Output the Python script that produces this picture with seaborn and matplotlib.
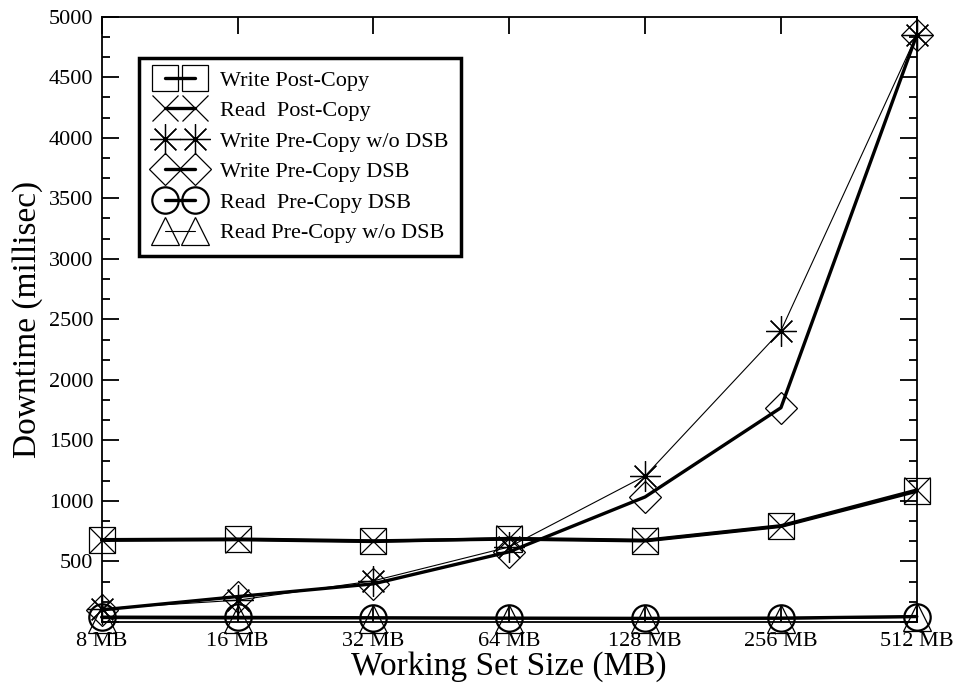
import matplotlib
matplotlib.use("Agg")
import matplotlib.pyplot as plt
import numpy as np
import pandas as pd
import seaborn as sns
from matplotlib.legend_handler import HandlerLine2D
from matplotlib.ticker import AutoMinorLocator, FixedLocator

# working set sizes (x categories)
sizes = ["8 MB", "16 MB", "32 MB", "64 MB", "128 MB", "256 MB", "512 MB"]

# downtime values (millisec)
write_post_copy = [680, 685, 670, 685, 670, 790, 1080]
read_post_copy = [675, 680, 665, 690, 675, 795, 1090]
write_pre_nodsb = [110, 180, 340, 620, 1206, 2406, 4850]
write_pre_dsb = [100, 210, 315, 580, 1033, 1770, 4850]
read_pre_dsb = [40, 38, 35, 32, 30, 32, 45]
read_pre_nodsb = [28, 25, 28, 25, 22, 24, 38]

series_names = [
    "Write Post-Copy",
    "Read  Post-Copy",
    "Write Pre-Copy w/o DSB",
    "Write Pre-Copy DSB",
    "Read  Pre-Copy DSB",
    "Read Pre-Copy w/o DSB",
]
series_values = [write_post_copy, read_post_copy, write_pre_nodsb,
                 write_pre_dsb, read_pre_dsb, read_pre_nodsb]
markers = ["s", "x", (8, 2, 0), "D", "o", "^"]
marker_sizes = [19, 19, 22, 16, 19, 20]
marker_edges = [0.9, 0.9, 0.9, 0.9, 1.6, 0.9]
line_widths = [2.4, 2.4, 0.8, 2.4, 2.4, 0.8]

rows = []
for name, vals in zip(series_names, series_values):
    for i, v in enumerate(vals):
        rows.append({"series": name, "pos": i, "downtime": v})
df = pd.DataFrame(rows)

sns.set_style("ticks")
plt.rcParams["font.family"] = ["Liberation Serif", "DejaVu Serif"]
plt.rcParams["text.color"] = "black"
plt.rcParams["axes.labelcolor"] = "black"

fig = plt.figure(figsize=(9.59, 6.86), dpi=100)
ax = fig.add_axes([0.106, 0.0933, 0.850, 0.8824])

for name, mk, ms, mew, lw in zip(series_names, markers, marker_sizes, marker_edges, line_widths):
    sub = df[df["series"] == name]
    sns.lineplot(
        data=sub, x="pos", y="downtime", ax=ax, sort=False,
        color="black", linewidth=lw, marker=mk, markersize=ms,
        markerfacecolor="none", markeredgecolor="black", markeredgewidth=mew,
        label=name, clip_on=False,
    )

ax.set_xlim(0, len(sizes) - 1)
ax.set_ylim(0, 5000)
ax.xaxis.set_major_locator(FixedLocator(range(len(sizes))))
ax.set_xticklabels(sizes)
ax.set_yticks(np.arange(0, 5001, 500))
ax.set_yticklabels([""] + [str(v) for v in range(500, 5001, 500)])
ax.yaxis.set_minor_locator(AutoMinorLocator(3))

for side in ["top", "right", "left", "bottom"]:
    ax.spines[side].set_visible(True)
    ax.spines[side].set_linewidth(1.3)
    ax.spines[side].set_color("black")

ax.tick_params(axis="both", which="major", direction="in", length=12, width=1.3,
               top=True, right=True, labelsize=16, colors="black")
ax.tick_params(axis="y", which="minor", direction="in", length=6, width=1.3,
               left=True, right=True, colors="black")
ax.tick_params(axis="x", which="major", pad=7)
ax.tick_params(axis="y", which="major", pad=6)

ax.set_xlabel("Working Set Size (MB)", fontsize=24, labelpad=0, color="black")
ax.set_ylabel("Downtime (millisec)", fontsize=24, labelpad=4, color="black")

leg = ax.legend(loc="upper left", bbox_to_anchor=(0.0457, 0.932), borderaxespad=0,
                numpoints=2, fontsize=16, frameon=True, fancybox=False,
                handlelength=2.6, handletextpad=0.5, labelspacing=0.45,
                borderpad=0.55, labelcolor="black",
                handler_map={matplotlib.lines.Line2D: HandlerLine2D(marker_pad=0.62)})
leg.get_frame().set_edgecolor("black")
leg.get_frame().set_linewidth(2.5)
leg.get_frame().set_alpha(1)

fig.savefig("out.png", dpi=100)
